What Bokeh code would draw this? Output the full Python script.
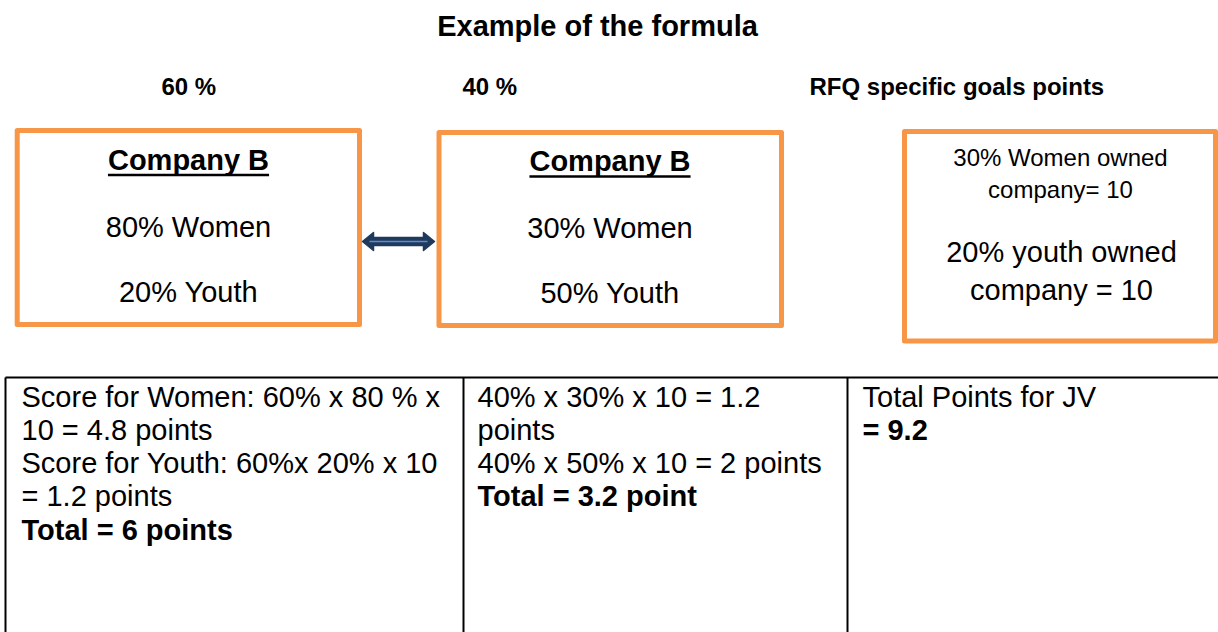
from bokeh.plotting import figure
from bokeh.models import Range1d
from bokeh.core.properties import value
from bokeh.embed import file_html
from bokeh.resources import INLINE

FONT = "Liberation Sans"
ORANGE = "#F79646"
NAVY = "#1F3A5C"
LIGHT = "#5B8BD0"

# ---- content ----
title = "Example of the formula"
weight_labels = ["60 %", "40 %", "RFQ specific goals  points"]

box_title = "Company B"
box1_lines = ["80% Women", "20% Youth"]
box2_lines = ["30% Women", "50% Youth"]
goal_small = ["30% Women owned", "company= 10"]
goal_large = ["20% youth owned", "company = 10"]

col1_lines = ["Score for Women: 60% x 80 % x", "10 = 4.8 points",
              "Score for Youth: 60%x 20% x 10", "= 1.2 points", "Total = 6 points"]
col1_bold = [False, False, False, False, True]
col2_lines = ["40% x 30% x 10 = 1.2", "points", "40% x 50% x 10 = 2 points",
              "Total  = 3.2 point"]
col2_bold = [False, False, False, True]
col3_lines = ["Total Points for JV", "= 9.2"]
col3_bold = [False, True]

# ---- layout (page pixel coordinates, y downwards) ----
W, H = 1218, 632
p = figure(width=W, height=H, x_range=Range1d(0, W), y_range=Range1d(H, 0),
           output_backend="svg", toolbar_location=None, min_border=0)
p.axis.visible = False
p.grid.visible = False
p.outline_line_color = None
p.background_fill_color = "white"
p.border_fill_color = "white"


def txt(x, y, s, size, bold=False, align="left"):
    # y is the visual centre of the capital letters
    p.text(x=[x], y=[y], text=[s], text_font=value(FONT), text_font_size=value(size),
           text_font_style="bold" if bold else "normal", text_align=align,
           text_baseline="alphabetic", text_color="black")


# title and weight labels
txt(597, 25, title, "29px", bold=True, align="center")
for lx, s in zip([161, 462, 809], weight_labels):
    txt(lx, 86, s, "24px", bold=True)

# boxes
boxes_l = [16.7, 438.5, 904]
boxes_r = [359, 781, 1215]
boxes_t = [130, 132, 131]
boxes_b = [324, 325, 340.5]
p.quad(left=boxes_l, right=boxes_r, top=boxes_t, bottom=boxes_b,
       fill_color="white", line_color=ORANGE, line_width=5, line_join="round")

# box 1 / box 2 text
title_w = 5.556 * 29
for cx, dy, lines in [(188, 0, box1_lines), (609.5, 1, box2_lines)]:
    txt(cx, 159 + dy, box_title, "29px", bold=True, align="center")
    p.segment(x0=[cx - title_w / 2], x1=[cx + title_w / 2], y0=[174.5 + dy * 1.5],
              y1=[174.5 + dy * 1.5], line_color="black", line_width=2.5)
    txt(cx, 226 + dy, lines[0], "29px", align="center")
    txt(cx, 291 + dy, lines[1], "29px", align="center")

# box 3 text
txt(1060, 157, goal_small[0], "24px", align="center")
txt(1060, 189, goal_small[1], "24px", align="center")
txt(1061, 251, goal_large[0], "29px", align="center")
txt(1061, 289.5, goal_large[1], "29px", align="center")

# double arrow
ax0, ax1, ay = 362, 434, 241
sh, hh, hl = 4, 9, 11
xs = [ax0, ax0 + hl, ax0 + hl, ax1 - hl, ax1 - hl, ax1, ax1 - hl, ax1 - hl, ax0 + hl, ax0 + hl]
ys = [ay, ay - hh, ay - sh, ay - sh, ay - hh, ay, ay + hh, ay + sh, ay + sh, ay + hh]
p.patch(xs, ys, fill_color=NAVY, line_color=NAVY, line_width=1.5, line_join="round")
p.segment(x0=[ax0 + 7], x1=[ax1 - 7], y0=[ay], y1=[ay], line_color=LIGHT, line_width=1.5)

# table
t_top, t_bot = 377, 632
p.segment(x0=[5], x1=[1218], y0=[t_top], y1=[t_top], line_color="black", line_width=2)
p.segment(x0=[5, 463, 847], x1=[5, 463, 847], y0=[t_top] * 3, y1=[t_bot] * 3,
          line_color="black", line_width=2)

pitch = 33.3
for colx, lines, bolds in [(21, col1_lines, col1_bold), (477, col2_lines, col2_bold),
                           (862, col3_lines, col3_bold)]:
    for i, (s, b) in enumerate(zip(lines, bolds)):
        txt(colx, 396 + i * pitch, s, "29px", bold=b)

open("out.html", "w").write(file_html(p, INLINE))
